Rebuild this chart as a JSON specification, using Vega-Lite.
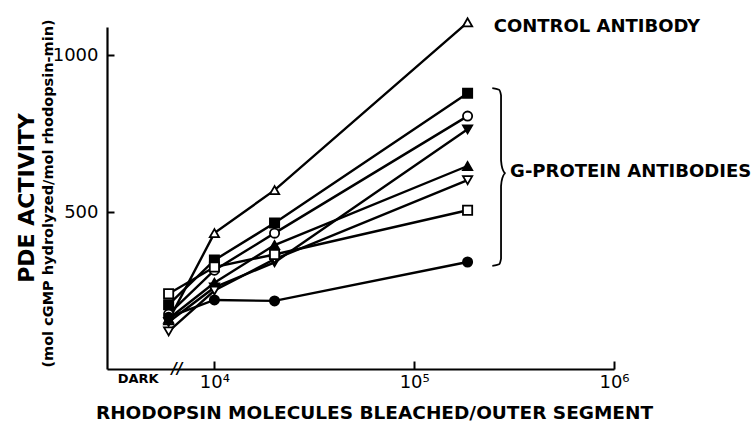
{
  "$schema": "https://vega.github.io/schema/vega-lite/v6.json",
  "width": 507,
  "height": 342,
  "autosize": {"type": "none"},
  "padding": {"left": 107, "top": 27, "right": 137, "bottom": 58},
  "background": "white",
  "title": {"text": "PDE ACTIVITY", "orient": "left", "anchor": "middle", "fontSize": 22, "fontWeight": "bold", "font": "DejaVu Sans", "color": "black", "offset": 1},
  "config": {
    "view": {"stroke": null},
    "font": "DejaVu Sans",
    "axis": {
      "domainColor": "black", "domainWidth": 2.2, "tickColor": "black", "tickWidth": 2,
      "labelColor": "black", "titleColor": "black", "grid": false,
      "labelFont": "DejaVu Sans", "titleFont": "DejaVu Sans", "titleFontWeight": "bold"
    }
  },
  "datasets": {
    "curves": [
      {"series": "Control", "fill": "open", "x": 5900, "y": 155},
      {"series": "Control", "fill": "open", "x": 10000, "y": 433},
      {"series": "Control", "fill": "open", "x": 20000, "y": 570},
      {"series": "Control", "fill": "open", "x": 185000, "y": 1105},
      {"series": "G-sq-filled", "fill": "filled", "x": 5900, "y": 205},
      {"series": "G-sq-filled", "fill": "filled", "x": 10000, "y": 347},
      {"series": "G-sq-filled", "fill": "filled", "x": 20000, "y": 465},
      {"series": "G-sq-filled", "fill": "filled", "x": 185000, "y": 879},
      {"series": "G-circ-open", "fill": "open", "x": 5900, "y": 175},
      {"series": "G-circ-open", "fill": "open", "x": 10000, "y": 315},
      {"series": "G-circ-open", "fill": "open", "x": 20000, "y": 433},
      {"series": "G-circ-open", "fill": "open", "x": 185000, "y": 806},
      {"series": "G-tridown-filled", "fill": "filled", "x": 5900, "y": 150},
      {"series": "G-tridown-filled", "fill": "filled", "x": 10000, "y": 260},
      {"series": "G-tridown-filled", "fill": "filled", "x": 20000, "y": 340},
      {"series": "G-tridown-filled", "fill": "filled", "x": 185000, "y": 764},
      {"series": "G-triup-filled", "fill": "filled", "x": 5900, "y": 160},
      {"series": "G-triup-filled", "fill": "filled", "x": 10000, "y": 275},
      {"series": "G-triup-filled", "fill": "filled", "x": 20000, "y": 395},
      {"series": "G-triup-filled", "fill": "filled", "x": 185000, "y": 647},
      {"series": "G-tridown-open", "fill": "open", "x": 5900, "y": 120},
      {"series": "G-tridown-open", "fill": "open", "x": 10000, "y": 250},
      {"series": "G-tridown-open", "fill": "open", "x": 20000, "y": 350},
      {"series": "G-tridown-open", "fill": "open", "x": 185000, "y": 602},
      {"series": "G-sq-open", "fill": "open", "x": 5900, "y": 240},
      {"series": "G-sq-open", "fill": "open", "x": 10000, "y": 325},
      {"series": "G-sq-open", "fill": "open", "x": 20000, "y": 365},
      {"series": "G-sq-open", "fill": "open", "x": 185000, "y": 506},
      {"series": "G-circ-filled", "fill": "filled", "x": 5900, "y": 165},
      {"series": "G-circ-filled", "fill": "filled", "x": 10000, "y": 220},
      {"series": "G-circ-filled", "fill": "filled", "x": 20000, "y": 217},
      {"series": "G-circ-filled", "fill": "filled", "x": 185000, "y": 341}
    ],
    "brace": [
      {"i": 0, "x": 246000, "y": 895},
      {"i": 1, "x": 266000, "y": 890},
      {"i": 2, "x": 272000, "y": 872},
      {"i": 3, "x": 272000, "y": 665},
      {"i": 4, "x": 276000, "y": 640},
      {"i": 5, "x": 287000, "y": 624},
      {"i": 6, "x": 276000, "y": 608},
      {"i": 7, "x": 272000, "y": 583},
      {"i": 8, "x": 272000, "y": 352},
      {"i": 9, "x": 266000, "y": 334},
      {"i": 10, "x": 246000, "y": 329}
    ],
    "notes": [
      {"x": 250000, "y": 1090, "label": "CONTROL ANTIBODY"},
      {"x": 302000, "y": 627, "label": "G-PROTEIN ANTIBODIES"}
    ],
    "marks": [
      {"x": 4150, "y": 0, "label": "DARK"}
    ],
    "breaks": [
      {"x": 6500, "y": 0, "label": "//"}
    ]
  },
  "layer": [
    {
      "data": {"name": "curves"},
      "mark": {"type": "line", "color": "black", "strokeWidth": 2.4},
      "encoding": {
        "x": {
          "field": "x", "type": "quantitative",
          "scale": {"type": "log", "domain": [2900, 1000000], "nice": false},
          "axis": {
            "values": [10000, 100000, 1000000],
            "labelExpr": "datum.value == 10000 ? '10⁴' : datum.value == 100000 ? '10⁵' : '10⁶'",
            "labelFontSize": 18, "labelPadding": 12, "tickSize": -8, "labelFlush": false,
            "title": "RHODOPSIN MOLECULES BLEACHED/OUTER SEGMENT",
            "titleFontSize": 18.5, "titleBaseline": "alphabetic", "titleY": 49, "titleX": 267
          }
        },
        "y": {
          "field": "y", "type": "quantitative",
          "scale": {"domain": [0, 1090], "nice": false},
          "axis": {
            "values": [500, 1000], "format": "d", "labelFontSize": 18, "tickSize": -7, "labelPadding": 16,
            "title": "(mol cGMP hydrolyzed/mol rhodopsin-min)",
            "titleFontSize": 14.5, "titleAngle": -90,
            "titleBaseline": "top", "titleX": -66, "titleY": 166, "titleAlign": "center"
          }
        },
        "detail": {"field": "series"}
      }
    },
    {
      "data": {"name": "curves"},
      "mark": {"type": "point", "stroke": "black", "strokeWidth": 1.8, "opacity": 1, "size": 85},
      "encoding": {
        "x": {"field": "x", "type": "quantitative"},
        "y": {"field": "y", "type": "quantitative"},
        "shape": {
          "field": "series", "type": "nominal", "legend": null,
          "scale": {
            "domain": ["Control", "G-sq-filled", "G-circ-open", "G-tridown-filled", "G-triup-filled", "G-tridown-open", "G-sq-open", "G-circ-filled"],
            "range": ["triangle-up", "square", "circle", "triangle-down", "triangle-up", "triangle-down", "square", "circle"]
          }
        },
        "fill": {
          "field": "fill", "type": "nominal", "legend": null,
          "scale": {"domain": ["filled", "open"], "range": ["black", "white"]}
        }
      }
    },
    {
      "data": {"name": "brace"},
      "mark": {"type": "line", "color": "black", "strokeWidth": 1.8, "interpolate": "monotone"},
      "encoding": {
        "x": {"field": "x", "type": "quantitative"},
        "y": {"field": "y", "type": "quantitative"},
        "order": {"field": "i", "type": "quantitative"}
      }
    },
    {
      "data": {"name": "notes"},
      "mark": {"type": "text", "align": "left", "baseline": "middle", "fontSize": 18, "fontWeight": "bold", "color": "black", "font": "DejaVu Sans"},
      "encoding": {
        "x": {"field": "x", "type": "quantitative"},
        "y": {"field": "y", "type": "quantitative"},
        "text": {"field": "label"}
      }
    },
    {
      "data": {"name": "marks"},
      "mark": {"type": "text", "align": "center", "baseline": "top", "dy": 4, "fontSize": 13, "fontWeight": "bold", "color": "black", "font": "DejaVu Sans"},
      "encoding": {
        "x": {"field": "x", "type": "quantitative"},
        "y": {"field": "y", "type": "quantitative"},
        "text": {"field": "label"}
      }
    },
    {
      "data": {"name": "breaks"},
      "mark": {"type": "text", "align": "center", "baseline": "middle", "fontSize": 15, "fontWeight": "bold", "color": "black", "font": "DejaVu Sans", "fontStyle": "italic"},
      "encoding": {
        "x": {"field": "x", "type": "quantitative"},
        "y": {"field": "y", "type": "quantitative"},
        "text": {"field": "label"}
      }
    }
  ]
}
